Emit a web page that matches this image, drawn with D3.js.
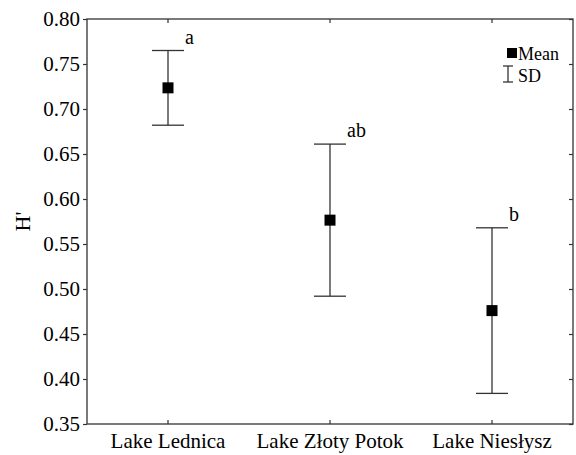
<!DOCTYPE html>
<html>
<head>
<meta charset="utf-8">
<script src="https://cdn.jsdelivr.net/npm/d3@7"></script>
</head>
<body style="margin:0; background:#fff">
<div class="chart"></div>
<script>
// data
const lakes = ["Lake Lednica", "Lake Złoty Potok", "Lake Niesłysz"];
const means = [0.7235, 0.5765, 0.476];
const sds = [0.0415, 0.0845, 0.092];
const groups = ["a", "ab", "b"];
const yTicks = [0.35, 0.40, 0.45, 0.50, 0.55, 0.60, 0.65, 0.70, 0.75, 0.80];

const margin = {top: 19, right: 3, bottom: 31, left: 87};
const width = 576 - margin.left - margin.right,
      height = 455 - margin.top - margin.bottom;

const FONT = "Liberation Serif";

const root = d3.select(".chart").append("svg")
    .attr("width", 576)
    .attr("height", 455)
    .attr("font-family", FONT)
    .style("font-family", `"${FONT}"`);
const svg = root.append("g")
    .attr("transform", `translate(${margin.left},${margin.top})`);

const xScale = d3.scaleBand().domain(lakes).range([0, width]);
const yScale = d3.scaleLinear().domain([0.35, 0.80]).range([height, 0]);
const cx = d => xScale(d) + xScale.bandwidth() / 2;

const stroke = "#333";

// frame
svg.append("rect")
    .attr("width", width).attr("height", height)
    .attr("fill", "none").attr("stroke", stroke).attr("stroke-width", 1.3);

// left axis (outward ticks)
const yAxis = svg.append("g")
    .call(d3.axisLeft(yScale).tickValues(yTicks).tickFormat(d3.format(".2f")).tickSize(4).tickPadding(3))
    .attr("font-family", null).attr("font-size", null);
yAxis.select(".domain").remove();
yAxis.selectAll("line").attr("stroke", stroke).attr("stroke-width", 1.2);
yAxis.selectAll("text").attr("font-size", 21);

// right axis (inward ticks)
const yRight = svg.append("g")
    .attr("transform", `translate(${width},0)`)
    .call(d3.axisLeft(yScale).tickValues(yTicks).tickFormat("").tickSize(-4));
yRight.select(".domain").remove();
yRight.selectAll("line").attr("stroke", stroke).attr("stroke-width", 1.2)
    .attr("x2", -4);

// bottom axis
const xAxis = svg.append("g")
    .attr("transform", `translate(0,${height})`)
    .call(d3.axisBottom(xScale).tickSize(0).tickPadding(9.5))
    .attr("font-family", null).attr("font-size", null);
xAxis.select(".domain").remove();
xAxis.selectAll("text").attr("font-size", 21);
xAxis.selectAll(".tick").append("line")
    .attr("y1", 0).attr("y2", -4).attr("stroke", stroke).attr("stroke-width", 1.2);

// top inward ticks
svg.append("g").selectAll("line").data(lakes).join("line")
    .attr("x1", cx).attr("x2", cx).attr("y1", 0).attr("y2", 4)
    .attr("stroke", stroke).attr("stroke-width", 1.2);

// error bars
const capW = 16;
const bars = svg.append("g").selectAll("g").data(lakes).join("g");
bars.append("line")
    .attr("x1", cx).attr("x2", cx)
    .attr("y1", (d, i) => yScale(means[i] + sds[i]))
    .attr("y2", (d, i) => yScale(means[i] - sds[i]))
    .attr("stroke", stroke).attr("stroke-width", 1.3);
[1, -1].forEach(s => {
  bars.append("line")
      .attr("x1", d => cx(d) - capW).attr("x2", d => cx(d) + capW)
      .attr("y1", (d, i) => yScale(means[i] + s * sds[i]))
      .attr("y2", (d, i) => yScale(means[i] + s * sds[i]))
      .attr("stroke", stroke).attr("stroke-width", 1.3);
});
bars.append("rect")
    .attr("x", d => cx(d) - 5.5)
    .attr("y", (d, i) => yScale(means[i]) - 5.5)
    .attr("width", 11).attr("height", 11)
    .attr("fill", "#000");
bars.append("text")
    .attr("x", d => cx(d) + capW + 1)
    .attr("y", (d, i) => yScale(means[i] + sds[i]) - 7)
    .attr("font-size", 20)
    .text((d, i) => groups[i]);

// legend
const lg = svg.append("g").attr("transform", `translate(${width - 66},0)`);
lg.append("rect").attr("x", 0).attr("y", 29).attr("width", 10).attr("height", 10).attr("fill", "#000");
lg.append("text").attr("x", 11).attr("y", 41).attr("font-size", 18).text("Mean");
lg.append("line").attr("x1", 1).attr("x2", 1).attr("y1", 47).attr("y2", 63).attr("stroke", stroke).attr("stroke-width", 1.3);
lg.append("line").attr("x1", -4).attr("x2", 6).attr("y1", 47).attr("y2", 47).attr("stroke", stroke).attr("stroke-width", 1.3);
lg.append("line").attr("x1", -4).attr("x2", 6).attr("y1", 63).attr("y2", 63).attr("stroke", stroke).attr("stroke-width", 1.3);
lg.append("text").attr("x", 11).attr("y", 63).attr("font-size", 18).text("SD");

// y label
svg.append("text")
    .attr("transform", `translate(${-57},${height / 2}) rotate(-90)`)
    .attr("text-anchor", "middle")
    .attr("font-size", 22)
    .text("H'");

root.selectAll("text")
    .attr("font-family", FONT)
    .style("font-family", `"${FONT}"`)
    .attr("fill", "#000");
</script>
</body>
</html>
